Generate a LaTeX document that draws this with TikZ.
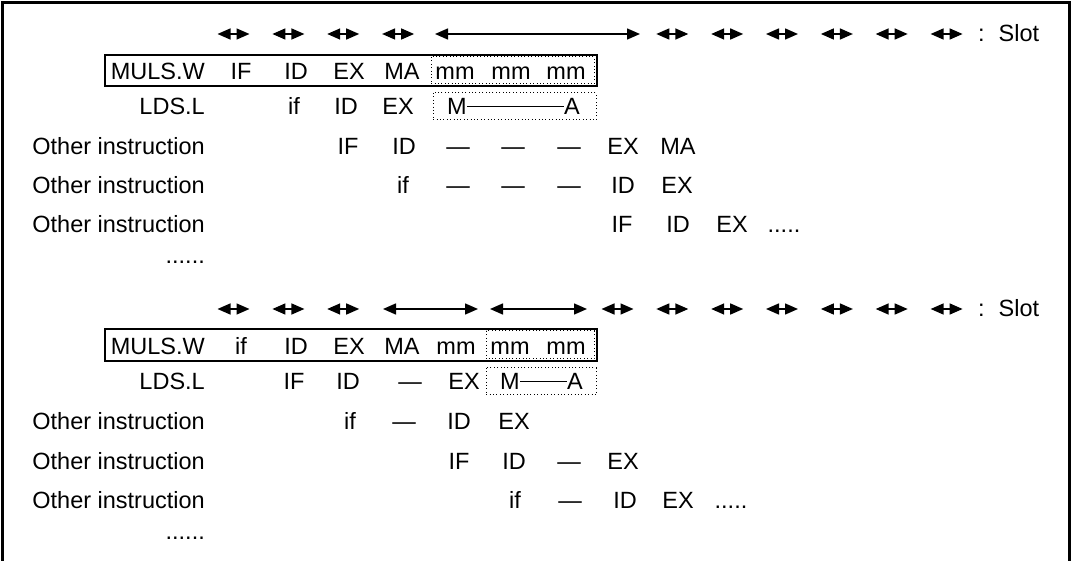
\documentclass[tikz,border=0pt]{standalone}
\usepackage{fontspec}
\setmainfont{Liberation Sans}
\usetikzlibrary{arrows.meta}
\begin{document}
\begin{tikzpicture}[x=1pt,y=-1pt,
  lbl/.style={inner sep=0pt, anchor=base, font=\fontsize{23.5}{28}\selectfont},
  lblr/.style={lbl, anchor=base east},
  lbll/.style={lbl, anchor=base west},
  slotarrow/.style={line width=1.5pt, {Triangle[length=13pt,width=11pt]}-{Triangle[length=13pt,width=11pt]}},
  frameline/.style={line width=3pt, line join=miter},
  boxline/.style={line width=1.2pt},
  dotbox/.style={line width=1pt, dash pattern=on 1pt off 2.4pt},
  mline/.style={line width=1.6pt}]
\useasboundingbox (0,0) rectangle (1072,561);
\draw[frameline] (2,561) -- (2,2.5) -- (1069.5,2.5) -- (1069.5,561);

% ---------------- top section ----------------
\foreach \x in {233.5,288.4,343.2,398.1,672.3,727.2,782,836.9,891.7,946.6}
  \draw[slotarrow] (\x-16,34) -- (\x+16,34);
\draw[slotarrow] (435,34) -- (640,34);
\node[lbll] (slotA) at (978,42) {:\hspace{14pt}Slot};

\draw[boxline] (105,55) rectangle (597,86);
\draw[dotbox] (431,57) rectangle (594,84);
\draw[dotbox] (433,93) rectangle (596,120);

\node[lblr] (mulsA) at (205,80) {MULS.W};
\node[lbl] (mA1) at (241,80) {IF};
\node[lbl] (mA2) at (296,80) {ID};
\node[lbl] (mA3) at (349,80) {EX};
\node[lbl] (mA4) at (402,80) {MA};
\node[lbl] (mA5) at (455,80) {mm};
\node[lbl] (mA6) at (511,80) {mm};
\node[lbl] (mA7) at (566,80) {mm};

\node[lblr] (ldsA) at (205,115) {LDS.L};
\node[lbl] (lA1) at (294,115) {if};
\node[lbl] (lA2) at (346,115) {ID};
\node[lbl] (lA3) at (398,115) {EX};
\node[lbll] (lAM) at (447,115) {M};
\node[lblr] (lAA) at (580,115) {A};
\draw[mline] ([yshift=8.5pt]lAM.base east) -- ([yshift=8.5pt]lAA.base west);

\node[lblr] (oA1) at (205,155) {Other instruction};
\node[lbl] (oA1a) at (348,155) {IF};
\node[lbl] (oA1b) at (404,155) {ID};
\node[lbl] (oA1c) at (458,155) {—};
\node[lbl] (oA1d) at (513,155) {—};
\node[lbl] (oA1e) at (569,155) {—};
\node[lbl] (oA1f) at (623,155) {EX};
\node[lbl] (oA1g) at (678,155) {MA};

\node[lblr] (oA2) at (205,194) {Other instruction};
\node[lbl] (oA2a) at (403,194) {if};
\node[lbl] (oA2b) at (458,194) {—};
\node[lbl] (oA2c) at (513,194) {—};
\node[lbl] (oA2d) at (569,194) {—};
\node[lbl] (oA2e) at (623,194) {ID};
\node[lbl] (oA2f) at (677,194) {EX};

\node[lblr] (oA3) at (205,233) {Other instruction};
\node[lbl] (oA3a) at (622,233) {IF};
\node[lbl] (oA3b) at (678,233) {ID};
\node[lbl] (oA3c) at (732,233) {EX};
\node[lbl] (oA3d) at (784,233) {.....};

\node[lblr] (dotsA) at (205,264) {......};

% ---------------- bottom section ----------------
\begin{scope}[yshift=-275pt]
\foreach \x in {233.5,288.4,343.2,617.5,672.3,727.2,782,836.9,891.7,946.6}
  \draw[slotarrow] (\x-16,34) -- (\x+16,34);
\draw[slotarrow] (383,34) -- (478,34);
\draw[slotarrow] (490,34) -- (587,34);
\node[lbll] (slotB) at (978,42) {:\hspace{14pt}Slot};

\draw[boxline] (105,54) rectangle (597,86);
\draw[dotbox] (486,56) rectangle (594,84);
\draw[dotbox] (486,93) rectangle (596,120);

\node[lblr] (mulsB) at (205,80) {MULS.W};
\node[lbl] (mB1) at (241,80) {if};
\node[lbl] (mB2) at (296,80) {ID};
\node[lbl] (mB3) at (349,80) {EX};
\node[lbl] (mB4) at (402,80) {MA};
\node[lbl] (mB5) at (456,80) {mm};
\node[lbl] (mB6) at (510,80) {mm};
\node[lbl] (mB7) at (566,80) {mm};

\node[lblr] (ldsB) at (205,115) {LDS.L};
\node[lbl] (lB1) at (294,115) {IF};
\node[lbl] (lB2) at (348,115) {ID};
\node[lbl] (lB3) at (410,115) {—};
\node[lbl] (lB4) at (464,115) {EX};
\node[lbll] (lBM) at (500,115) {M};
\node[lblr] (lBA) at (583,115) {A};
\draw[mline] ([yshift=8.5pt]lBM.base east) -- ([yshift=8.5pt]lBA.base west);

\node[lblr] (oB1) at (205,155) {Other instruction};
\node[lbl] (oB1a) at (350,155) {if};
\node[lbl] (oB1b) at (404,155) {—};
\node[lbl] (oB1c) at (459,155) {ID};
\node[lbl] (oB1d) at (514,155) {EX};

\node[lblr] (oB2) at (205,194) {Other instruction};
\node[lbl] (oB2a) at (459,194) {IF};
\node[lbl] (oB2b) at (514,194) {ID};
\node[lbl] (oB2c) at (569,194) {—};
\node[lbl] (oB2d) at (623,194) {EX};

\node[lblr] (oB3) at (205,233) {Other instruction};
\node[lbl] (oB3a) at (515,233) {if};
\node[lbl] (oB3b) at (570,233) {—};
\node[lbl] (oB3c) at (625,233) {ID};
\node[lbl] (oB3d) at (678,233) {EX};
\node[lbl] (oB3e) at (731,233) {.....};

\node[lblr] (dotsB) at (205,264) {......};
\end{scope}
\end{tikzpicture}
\end{document}
